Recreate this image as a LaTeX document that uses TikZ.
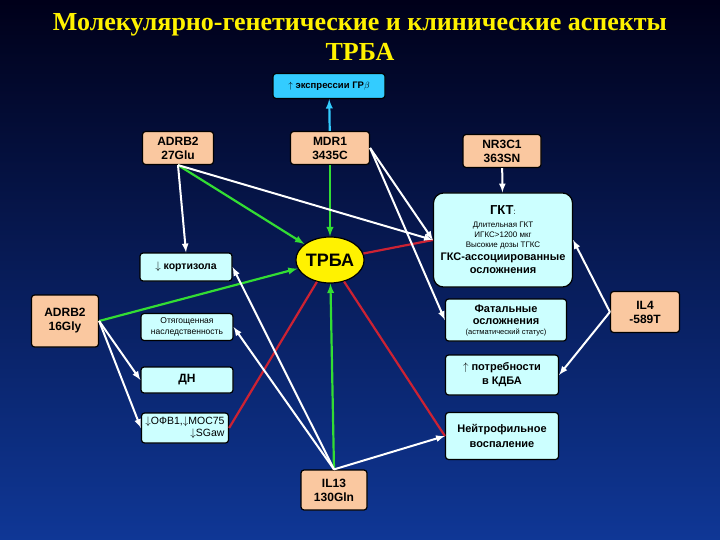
\documentclass[tikz,border=0pt]{standalone}
\usepackage{fontspec}
\setmainfont{Liberation Sans}
\newfontfamily\titlefont{Liberation Serif}
\usetikzlibrary{arrows,shapes.geometric}

\definecolor{peach}{HTML}{FAC8A0}
\definecolor{paleblue}{HTML}{CCFFFF}
\definecolor{skyblue}{HTML}{33CCFF}
\definecolor{linkgreen}{HTML}{33DD33}
\definecolor{linkred}{HTML}{CC2233}

\begin{document}
\begin{tikzpicture}[x=1pt, y=-1pt]

    % --- Styles ---
    \tikzset{
        box/.style={draw=black, line width=1.2pt, rounded corners=3pt, font=\bfseries\fontsize{12}{14}\selectfont, align=center, inner sep=1pt},
        gene/.style={box, fill=peach},
        effect/.style={box, fill=paleblue},
        small/.style={effect, font=\fontsize{8.5}{11}\selectfont},
        hub/.style={ellipse, draw=black, line width=1.2pt, fill=yellow, font=\bfseries\fontsize{18}{20}\selectfont, inner sep=0pt},
        green/.style={-latex, draw=linkgreen, line width=2.2pt},
        white/.style={-latex, draw=white, line width=2pt},
        red/.style={draw=linkred, line width=2.2pt}
    }

    % --- Hintergrund ---
    \shade[top color=black!90!blue, bottom color={rgb,255:red,15;green,55;blue,150}] (0,0) rectangle (720,540);
    \useasboundingbox (0,0) rectangle (720,540);

    % --- Titel ---
    \node[text=yellow, font=\titlefont\bfseries\fontsize{26}{30}\selectfont, align=center] (title) at (360,37)
        {Молекулярно-генетические и клинические аспекты\\ТРБА};

    % --- Knoten ---
    \node[box, fill=skyblue, minimum width=112pt, minimum height=25pt, font=\bfseries\fontsize{9.5}{11}\selectfont] (expr) at (329,86) {$\uparrow$ экспрессии ГР$\beta$};

    \node[gene, minimum width=71pt, minimum height=33pt] (adrbglu) at (178,148) {ADRB2\\27Glu};
    \node[gene, minimum width=79pt, minimum height=33pt] (mdr) at (330,148) {MDR1\\3435C};
    \node[gene, minimum width=78pt, minimum height=33pt] (nr) at (502,151) {NR3C1\\363SN};
    \node[gene, minimum width=67pt, minimum height=52pt] (adrbgly) at (65,321) {ADRB2\\16Gly};
    \node[gene, minimum width=69pt, minimum height=41pt] (ilfour) at (645,312) {IL4\\-589T};
    \node[gene, minimum width=66pt, minimum height=40pt] (ilthirteen) at (334,490) {IL13\\130Gln};

    \node[hub, minimum width=62pt, minimum height=46pt] (trba) at (330,260) {ТРБА};

    \node[effect, rounded corners=10pt, minimum width=139pt, minimum height=94pt, font=\fontsize{8}{10}\selectfont] (gkt) at (503,240)
        {{\bfseries\fontsize{13}{15}\selectfont ГКТ}:\\[3pt]
         Длительная ГКТ\\ИГКС>1200 мкг\\Высокие дозы ТГКС\\[3pt]
         {\bfseries\fontsize{11}{13}\selectfont ГКС-ассоциированные}\\[3pt]{\bfseries\fontsize{11}{13}\selectfont осложнения}};

    \node[effect, minimum width=92pt, minimum height=28pt, font=\bfseries\fontsize{10.5}{12}\selectfont] (cort) at (186,267) {$\downarrow$ кортизола};
    \node[small, minimum width=92pt, minimum height=27pt] (hered) at (187,327) {Отягощенная\\наследственность};
    \node[effect, minimum width=92pt, minimum height=26pt] (dn) at (187,380) {ДН};
    \node[effect, minimum width=87pt, minimum height=30pt, font=\fontsize{10.5}{12}\selectfont, align=right] (ofv) at (185,428) {$\downarrow$ОФВ1,$\downarrow$МОС75\\$\downarrow$SGaw};

    \node[effect, minimum width=121pt, minimum height=42pt, font=\fontsize{7.5}{9}\selectfont] (fatal) at (506,320)
        {{\bfseries\fontsize{11}{13}\selectfont Фатальные}\\[3pt]{\bfseries\fontsize{11}{13}\selectfont осложнения}\\[1pt](астматический статус)};
    \node[effect, minimum width=113pt, minimum height=40pt, font=\bfseries\fontsize{11}{14}\selectfont] (need) at (502,375) {$\uparrow$ потребности\\в КДБА};
    \node[effect, minimum width=113pt, minimum height=47pt, font=\bfseries\fontsize{11}{15}\selectfont] (neutro) at (502,436) {Нейтрофильное\\воспаление};

    % --- Verbindungen ---
    \draw[-latex, draw=skyblue, line width=2.2pt] (mdr) -- (expr);

    \draw[green] (mdr) -- (trba);
    \draw[green] (adrbglu.south) -- (trba);
    \draw[green] (adrbgly.east) -- (trba);
    \draw[green] (ilthirteen.north) -- (trba);

    \draw[red] (trba) -- (gkt.west);
    \draw[red] (trba) -- (ofv.east);
    \draw[red] (trba) -- (neutro.west);

    \draw[white] (adrbglu.south) -- (cort.north);
    \draw[white] (adrbglu.south) -- (gkt.west);
    \draw[white] (mdr.east) -- (gkt.west);
    \draw[white] (mdr.east) -- (fatal.west);
    \draw[white] (nr) -- (gkt);
    \draw[white] (ilfour.west) -- (gkt.east);
    \draw[white] (ilfour.west) -- (need.east);
    \draw[white] (adrbgly.east) -- (dn.west);
    \draw[white] (adrbgly.east) -- (ofv.west);
    \draw[white] (ilthirteen.north) -- (cort.east);
    \draw[white] (ilthirteen.north) -- (hered.east);
    \draw[white] (ilthirteen.north) -- (neutro.west);

\end{tikzpicture}
\end{document}
